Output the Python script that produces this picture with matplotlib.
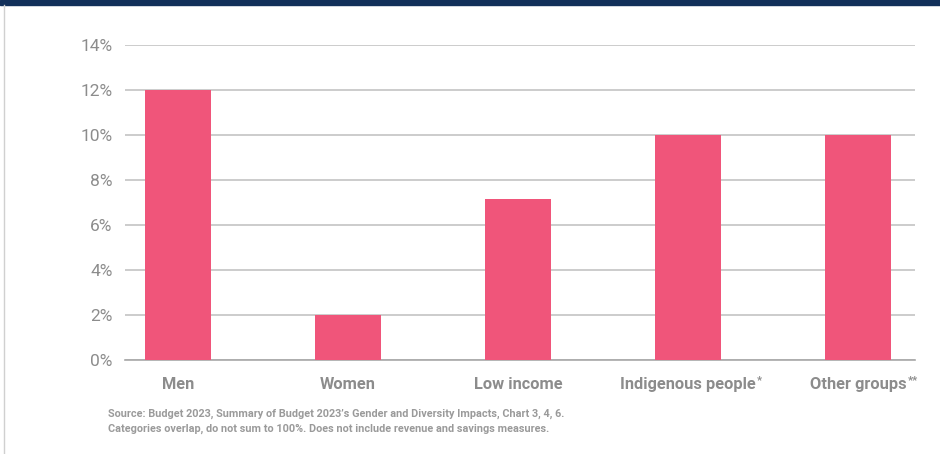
import matplotlib.pyplot as plt
from matplotlib.patches import Rectangle
from matplotlib.lines import Line2D

plt.rcParams['font.family'] = ['Roboto', 'DejaVu Sans']

# data
categories = ['Men', 'Women', 'Low income', 'Indigenous people', 'Other groups']
superscripts = ['', '', '', '*', '**']
values = [12, 2, 7.15, 10, 10]
yticks = [0, 2, 4, 6, 8, 10, 12, 14]

bar_color = '#F0557A'
grid_color = '#C4C4C4'
text_color = '#8C8C8C'

fig = plt.figure(figsize=(9.4, 4.54), dpi=100)
W, H = 940, 454

# navy band at the top and thin left border
fig.patches.append(Rectangle((0, 1 - 5 / H), 1, 5 / H, transform=fig.transFigure,
                             color='#12305A', zorder=0))
fig.lines.append(Line2D([3.5 / W, 3.5 / W], [0, 1 - 5 / H], transform=fig.transFigure,
                        color='#D0D0D0', lw=1))

ax = fig.add_axes([125 / W, 1 - 360 / H, 790 / W, 315 / H])
x = range(len(categories))
ax.bar(x, values, width=0.39, color=bar_color, zorder=3)

ax.set_ylim(0, 14)
ax.set_xlim(-0.312, 4.335)
ax.set_yticks(yticks)
ax.set_yticklabels([f'{t}%' for t in yticks])
ax.yaxis.grid(True, color=grid_color, lw=1.2, zorder=0)
ax.set_axisbelow(True)
for s in ['top', 'right', 'left']:
    ax.spines[s].set_visible(False)
ax.spines['bottom'].set_color('#A8A8A8')
ax.spines['bottom'].set_linewidth(1.2)
ax.tick_params(axis='both', length=0, colors=text_color)
ax.tick_params(axis='y', labelsize=12.5, pad=9)

ax.set_xticks(list(x))
ax.set_xticklabels([''] * len(categories))
for i, (c, s) in enumerate(zip(categories, superscripts)):
    t = ax.text(i, -29 / 315, c, transform=ax.get_xaxis_transform(), ha='center',
                va='baseline', fontsize=11.8, fontweight='bold', color=text_color)
    if s:
        # small superscript marks after the label
        ax.annotate(s, xy=(1, 1), xycoords=t, xytext=(1, 1), textcoords='offset points',
                    ha='left', va='top', fontsize=8, fontweight='bold', color=text_color)

fig.text(108 / W, 1 - 414 / H,
         "Source: Budget 2023, Summary of Budget 2023\u2019s Gender and Diversity Impacts, Chart 3, 4, 6.",
         fontsize=7.8, fontweight='bold', color='#9A9A9A', va='center')
fig.text(108 / W, 1 - 429 / H,
         "Categories overlap, do not sum to 100%. Does not include revenue and savings measures.",
         fontsize=7.8, fontweight='bold', color='#9A9A9A', va='center')

fig.savefig('out.png', dpi=100)
